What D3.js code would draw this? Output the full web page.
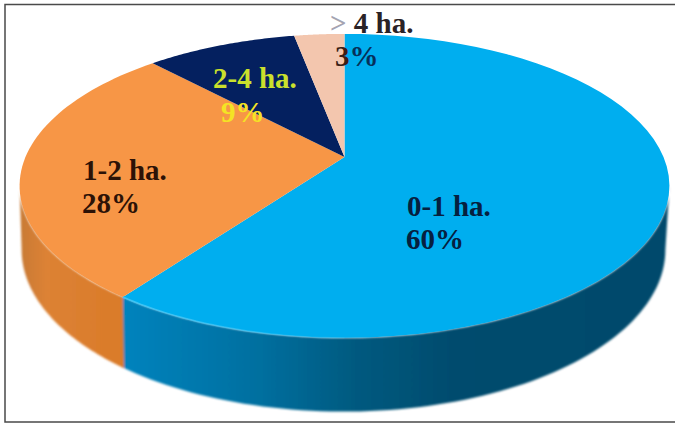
<!DOCTYPE html>
<html>
<head>
<meta charset="utf-8">
<script src="https://cdn.jsdelivr.net/npm/d3@7"></script>
<style>
html,body{margin:0;padding:0;background:#fff;}
svg{display:block;}
text{font-family:"Liberation Serif","Times New Roman",serif;font-weight:bold;font-size:29px;}
</style>
</head>
<body>
<svg id="chart" width="675" height="423"></svg>
<script>
// Farm size classes and their shares of holdings
const categories = ["0-1 ha.", "1-2 ha.", "2-4 ha.", "> 4 ha."];
const shares = [60, 28, 9, 3];
const percentLabels = ["60%", "28%", "9%", "3%"];
const topColors = ["#00aeef", "#f79646", "#04205f", "#f3c6ae"];
const nameColors = ["#06203f", "#2c1206", "#cbe02c", "#2a2226"];
const percentColors = ["#06203f", "#2c1206", "#f4e324", "#3a1f18"];
const nameAnchors = [[407, 216], [83, 180], [213, 88], [330, 33]];
const percentAnchors = [[406, 249], [82, 213], [221, 122], [335, 66]];

const svg = d3.select("#chart");
const tilt = 0.19;

// Upper and lower discs share the tilt; the lower one sits further from the eye line
const upperDisc = { cx: 344.5, cy: 157, rx: 319, ry: 146.5 };
const lowerDisc = { cx: 343.5, cy: 219, rx: 316, ry: 156 };

// Perspective view of a rim point; angle runs clockwise from twelve o'clock
function project(a, disc = upperDisc) {
  const sx = d3.scaleLinear().domain([-1, 1]).range([-disc.rx, disc.rx]);
  const sy = d3.scaleLinear().domain([-1, 1]).range([-disc.ry, disc.ry]);
  const u = Math.sin(a), v = -Math.cos(a);
  const w = 1 - tilt * v;
  return [disc.cx + sx(u) / w, disc.cy + sy(v) / w];
}

const arcsData = d3.pie().sort(null).value(d => d)(shares);
const line = d3.line();
const steps = a => d3.range(0, 61).map(i => a.startAngle + (a.endAngle - a.startAngle) * i / 60);

const defs = svg.append("defs");
function sideGradient(id, x1, x2, stops) {
  const g = defs.append("linearGradient").attr("id", id)
    .attr("gradientUnits", "userSpaceOnUse")
    .attr("x1", x1).attr("x2", x2).attr("y1", 0).attr("y2", 0);
  stops.forEach(s => g.append("stop").attr("offset", s[0]).attr("stop-color", s[1]).attr("stop-opacity", s[2] === undefined ? 1 : s[2]));
}
sideGradient("sideBlue", 124, 670, [[0, "#0083bd"], [0.25, "#006f9f"], [0.42, "#005a80"], [0.6, "#004c6e"], [1, "#004a6c"]]);
sideGradient("sideOrange", 20, 128, [[0, "#c87a35"], [0.25, "#dd8234"], [1, "#d97a28"]]);
sideGradient("rimGlint", 124, 400, [[0, "#3cc4f5", 1], [0.5, "#3cc4f5", 0.6], [1, "#3cc4f5", 0]]);
defs.append("filter").attr("id", "softEdge").attr("x", "-5%").attr("y", "-5%").attr("width", "110%").attr("height", "110%")
  .append("feGaussianBlur").attr("stdDeviation", 0.9);
const sideFill = ["url(#sideBlue)", "url(#sideOrange)"];

// Visible rim: the front of the two large slices, out to the widest points of the disc
const silhouette = Math.asin(tilt);
const rim = svg.append("g").attr("filter", "url(#softEdge)");
arcsData.slice(0, 2).forEach((a, i) => {
  const start = i === 0 ? Math.PI * 0.5 + silhouette : a.startAngle;
  const end = i === 0 ? a.endAngle + 0.01 : Math.PI * 1.5 - silhouette;
  const ang = d3.range(0, 81).map(k => start + (end - start) * k / 80);
  const pts = ang.map(t => project(t)).concat(ang.slice().reverse().map(t => project(t, lowerDisc)));
  rim.append("path").attr("d", line(pts) + "Z").attr("fill", sideFill[i]);
});

// Top face
svg.append("g").selectAll("path").data(arcsData).join("path")
  .attr("fill", (d, i) => topColors[i])
  .attr("d", d => line([[upperDisc.cx, upperDisc.cy]].concat(steps(d).map(t => project(t)))) + "Z");

// Bevel highlight along the front of the blue slice
const front = d3.range(0, 41).map(k => Math.PI + (arcsData[0].endAngle - Math.PI) * k / 40).reverse();
svg.append("path").attr("d", line(front.map(t => project(t))))
  .attr("fill", "none").attr("stroke", "url(#rimGlint)").attr("stroke-width", 1.5);

// Frame: open on the right, where it runs off the edge of the page
svg.append("path").attr("d", d3.line()([[675, 4.5], [5, 4.5], [5, 422], [675, 422]]))
  .attr("fill", "none").attr("stroke", "#4a4a4a").attr("stroke-width", 1.5);

// Class names and percentages
const labels = svg.append("g");
labels.selectAll("text.name").data(categories).join("text").attr("class", "name")
  .attr("x", (d, i) => nameAnchors[i][0]).attr("y", (d, i) => nameAnchors[i][1])
  .attr("fill", (d, i) => nameColors[i])
  .each(function (d) {
    // The ">" sign prints lighter than the rest of its label
    const t = d3.select(this);
    if (d.startsWith(">")) {
      t.append("tspan").attr("fill", "#a4a4b2").text("> ");
      t.append("tspan").text(d.slice(2));
    } else {
      t.text(d);
    }
  });
labels.selectAll("text.pct").data(percentLabels).join("text").attr("class", "pct")
  .attr("x", (d, i) => percentAnchors[i][0]).attr("y", (d, i) => percentAnchors[i][1])
  .attr("fill", (d, i) => percentColors[i])
  .each(function (d, i) {
    // The last percentage straddles two slices: its sign sits on the blue one
    const t = d3.select(this);
    if (i === 3) {
      t.append("tspan").text(d.slice(0, -1));
      t.append("tspan").attr("fill", "#06305a").text("%");
    } else {
      t.text(d);
    }
  });
</script>
</body>
</html>
